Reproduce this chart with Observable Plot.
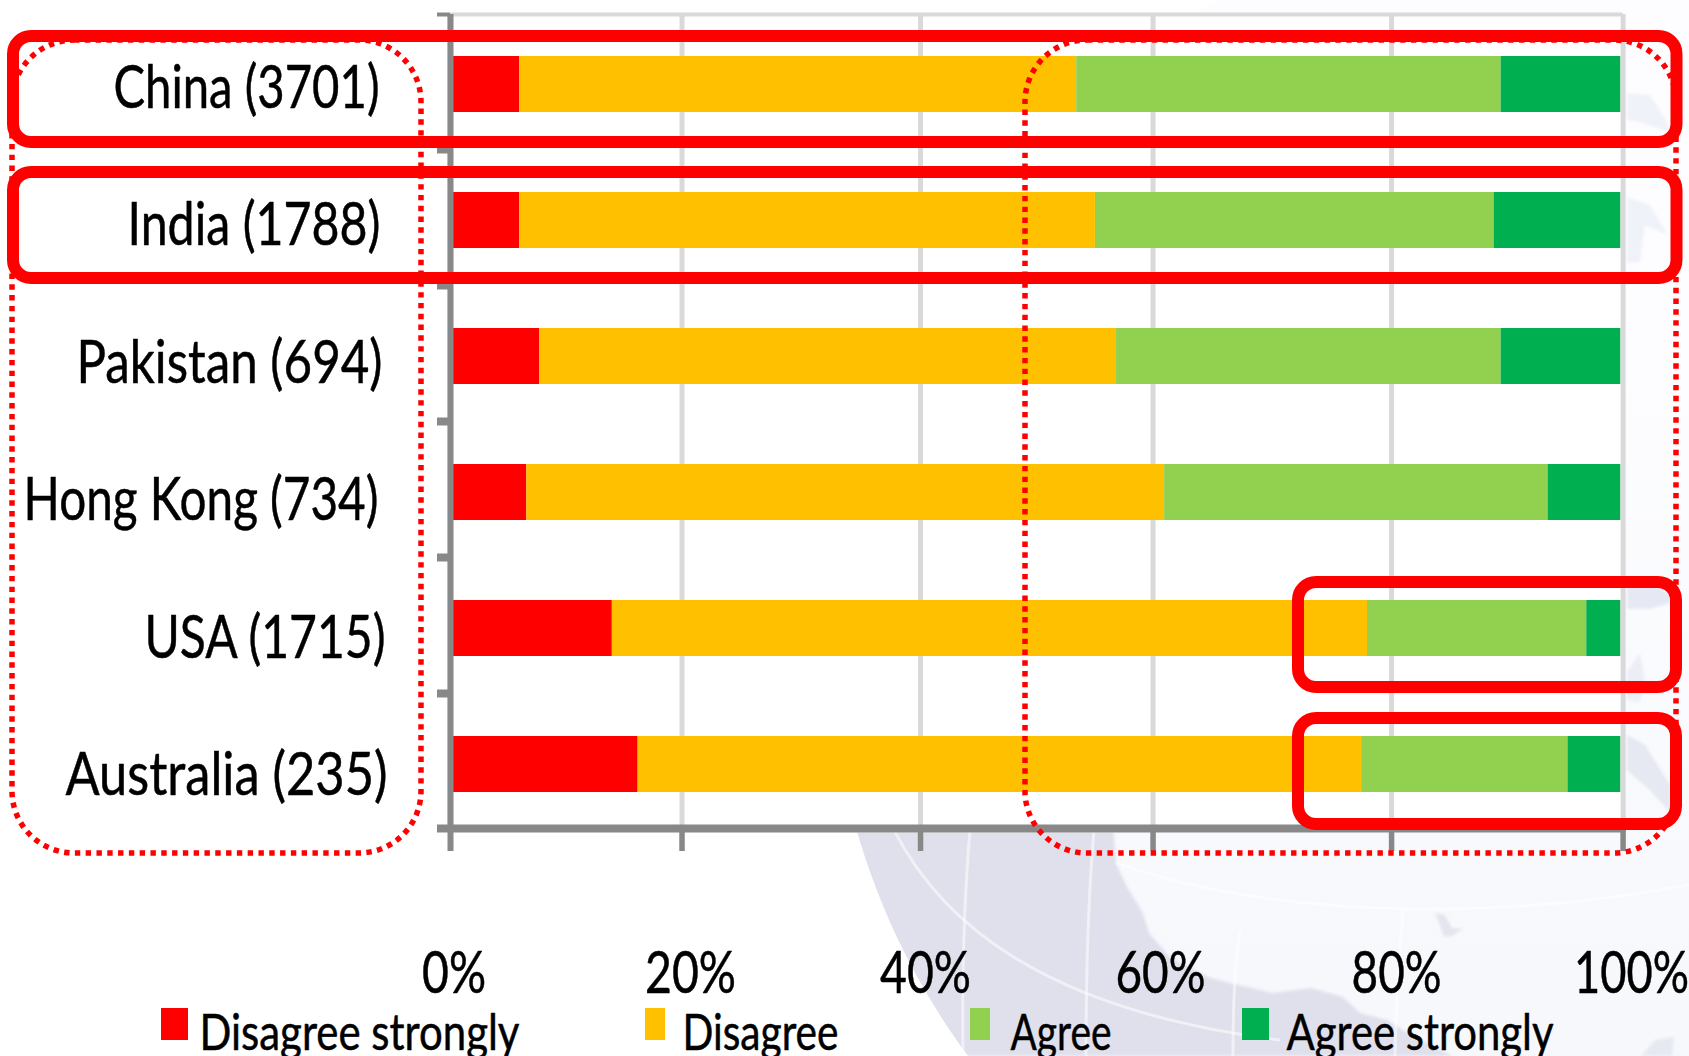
<!DOCTYPE html>
<html>
<head>
<meta charset="utf-8">
<title>Agreement by country</title>
<script src="https://cdn.jsdelivr.net/npm/d3@7"></script>
<script src="https://cdn.jsdelivr.net/npm/@observablehq/plot@0.6"></script>
<style>
  html, body { margin: 0; padding: 0; background: #fff; overflow: hidden; }
  svg { display: block; }
</style>
</head>
<body>
<div id="chart"></div>
<script>
// Survey responses, share of respondents per country (percent)
const categories = ["China (3701)", "India (1788)", "Pakistan (694)", "Hong Kong (734)", "USA (1715)", "Australia (235)"];
const disagreeStrongly = [5.9, 5.9, 7.6, 6.5, 13.8, 16.0];
const disagree = [47.5, 49.1, 49.2, 54.4, 64.4, 61.7];
const agree = [36.2, 34.0, 32.8, 32.7, 18.7, 17.6];
const agreeStrongly = [10.2, 10.8, 10.2, 6.2, 2.9, 4.5];

const levels = ["Disagree strongly", "Disagree", "Agree", "Agree strongly"];
const levelColors = ["#ff0000", "#ffc000", "#92d050", "#00b050"];
const xTicks = [0, 20, 40, 60, 80, 100];

// Layout of the page in pixels
const W = 1689, H = 1056;
const plotLeft = 450, plotRight = 1622.6, plotTop = 16, plotBottom = 832;
const toX = d3.scaleLinear([plotLeft, plotRight], [0, 100]);
const toY = d3.scaleLinear([plotTop, plotBottom], [0, 6]);

// Fine placement and set widths of the labels
const labelDx = [-2, -1, 1, -3, 4, 6];
const labelDy = [23, 24, 26, 27, 29, 30];
const gridDx = [-0.5, -3, 1, -1, 3, 0];
const tickLabelDx = [3.6, 5.5, 6, 6.4, 8, 8.4];
const legendSwatches = [[161, 188], [645, 665], [970, 990], [1242, 1269]];
const legendTextLeft = [199, 682, 1010, 1286];
const textWidths = {
  "China (3701)": 266, "India (1788)": 253, "Pakistan (694)": 306,
  "Hong Kong (734)": 355, "USA (1715)": 241, "Australia (235)": 322,
  "0%": 64, "20%": 91, "40%": 91, "60%": 90, "80%": 90, "100%": 115,
  "Disagree strongly": 320, "Disagree": 156, "Agree": 101, "Agree strongly": 267
};

const series = [disagreeStrongly, disagree, agree, agreeStrongly];
const rows = categories.flatMap((country, row) =>
  levels.map((level, k) => ({country, row, level, value: series[k][row]})));

// Highlight outlines: dotted groups beneath, solid boxes on top
const dottedBoxes = [
  {x1: toX(12), x2: toX(421), y1: toY(40), y2: toY(853)},
  {x1: toX(1025), x2: toX(1676), y1: toY(40), y2: toY(853)}
];
const solidBoxes = [
  {x1: toX(13), x2: toX(1676.5), y1: toY(36), y2: toY(142)},
  {x1: toX(13), x2: toX(1676.5), y1: toY(172), y2: toY(278)},
  {x1: toX(1298), x2: toX(1676), y1: toY(582), y2: toY(687)},
  {x1: toX(1298), x2: toX(1676), y1: toY(718), y2: toY(824)}
];

// Pale globe behind the chart
function globe() {
  const g = d3.create("svg:g");
  const defs = g.append("defs");
  defs.append("clipPath").attr("id", "globe-clip")
    .append("circle").attr("cx", 1539).attr("cy", 634).attr("r", 710);
  const sea = defs.append("linearGradient").attr("id", "sea")
    .attr("x1", 0).attr("x2", 0).attr("y1", 0).attr("y2", 1);
  sea.append("stop").attr("offset", "40%").attr("stop-color", "#fdfdff");
  sea.append("stop").attr("offset", "90%").attr("stop-color", "#f6f8fc");
  defs.append("filter").attr("id", "soft")
    .append("feGaussianBlur").attr("stdDeviation", 1.5);
  const inner = g.append("g").attr("clip-path", "url(#globe-clip)");
  inner.append("rect").attr("x", 800).attr("y", -100).attr("width", 900).attr("height", 1200).attr("fill", "url(#sea)");
  const land = inner.append("g").attr("filter", "url(#soft)");
  const poly = (pts, fill) => land.append("polygon").attr("points", pts).attr("fill", fill);
  poly("1113,825 1116,863 1127,887 1143,913 1149,933 1170,957 1208,977 1230,983 1273,993 1311,988 1343,997 1360,1013 1387,1020 1414,1037 1452,1056 800,1056 800,825", "#e0e0ec");
  poly("1435,913 1445,915 1452,928 1463,929 1452,936 1444,937 1440,925", "#e3e5ef");
  poly("1641,1056 1655,1040 1674,1037 1672,1056", "#e7e9f2");
  poly("1627,93 1650,95 1665,118 1670,132 1640,122 1627,120", "#f0f2f9");
  poly("1627,197 1650,205 1668,235 1645,225 1640,262 1627,263", "#f0f2f9");
  poly("1627,581 1650,583 1680,600 1650,609 1627,609", "#e6e9f3");
  poly("1627,672 1640,653 1645,680 1640,702 1627,700", "#eceef6");
  poly("1627,735 1645,745 1670,785 1670,812 1650,790 1627,770", "#e6e8f2");
  const arc = d => inner.append("path").attr("d", d).attr("fill", "none").attr("stroke", "#fff").attr("stroke-opacity", 0.5).attr("stroke-width", 3);
  arc("M894,830 C940,920 1040,1010 1280,1040");
  arc("M970,830 C964,900 962,980 963,1056");
  arc("M1094,830 C1088,900 1086,980 1086,1056");
  arc("M1116,863 C1280,920 1500,920 1689,885");
  arc("M1240,930 C1235,960 1233,1010 1233,1056");
  arc("M1403,910 C1398,960 1396,1010 1395,1056");
  return g.node();
}

const textBase = {fontFamily: "Lato, Carlito, sans-serif", fill: "#000", stroke: "#000", strokeWidth: 0.5, lineAnchor: "bottom"};

const chart = Plot.plot({
  width: W,
  height: H,
  marginLeft: plotLeft,
  marginRight: W - plotRight,
  marginTop: plotTop,
  marginBottom: H - plotBottom,
  style: {background: "transparent", overflow: "hidden"},
  x: {domain: [0, 100], axis: null},
  y: {domain: [6, 0], axis: null},
  color: {domain: levels, range: levelColors},
  marks: [
    globe,
    Plot.frame({fill: "#fff", stroke: null}),

    // Gridlines, then the stacked bars over them
    ...xTicks.map((t, i) => Plot.ruleX([t], {y1: -0.015, y2: 6, dx: gridDx[i], stroke: "#d9d9d9", strokeWidth: 5})),
    Plot.ruleY([0], {x1: 0, x2: 100, dy: -2, stroke: "#d9d9d9", strokeWidth: 4}),
    Plot.rectX(rows, Plot.stackX({
      x: "value", y1: "row", y2: d => d.row + 1, fill: "level", order: null,
      insetTop: 40, insetBottom: 40
    })),

    // Axis lines and tick marks
    Plot.ruleX([0], {y1: -0.015, y2: 6.14, stroke: "#888", strokeWidth: 6}),
    Plot.ruleY([0], {x1: toX(437), x2: 0, dy: -2, stroke: "#888", strokeWidth: 4}),
    Plot.ruleY([1, 2, 3, 4, 5], {x1: toX(437), x2: 0, dy: -3, stroke: "#888", strokeWidth: 8}),
    Plot.ruleY([6], {x1: toX(437), x2: 100, dy: -4, stroke: "#888", strokeWidth: 8}),
    ...xTicks.slice(1).map(t => Plot.ruleX([t], {
      y1: 5.97, y2: 6.14, dx: gridDx[xTicks.indexOf(t)], stroke: "#888", strokeWidth: 5.5
    })),

    // Country labels
    ...categories.map((c, i) => Plot.text([c], {
      ...textBase, text: d => d, x: toX(381), y: i + 0.5,
      dx: labelDx[i], dy: labelDy[i], textAnchor: "end", fontSize: 60
    })),

    // Percent labels under the axis
    ...xTicks.map((t, i) => Plot.text([t], {
      ...textBase, text: d => `${d}%`, x: d => d, y: toY(992), dx: tickLabelDx[i],
      textAnchor: "middle", fontSize: 58
    })),

    // Legend row
    ...levels.map((level, i) => Plot.rect([level], {
      x1: toX(legendSwatches[i][0]), x2: toX(legendSwatches[i][1]),
      y1: toY(1008), y2: toY(1040), fill: d => d
    })),
    ...levels.map((level, i) => Plot.text([level], {
      ...textBase, text: d => d, x: toX(legendTextLeft[i]), y: toY(1049),
      textAnchor: "start", fontSize: 50
    })),

    // Highlight outlines
    Plot.rect(dottedBoxes, {
      x1: "x1", x2: "x2", y1: "y1", y2: "y2", rx: 62, fill: "none",
      stroke: "#ff0000", strokeWidth: 5.5, strokeDasharray: "5.4,5.4"
    }),
    Plot.rect(solidBoxes, {
      x1: "x1", x2: "x2", y1: "y1", y2: "y2", rx: 18, fill: "none",
      stroke: "#ff0000", strokeWidth: 12
    })
  ]
});

document.getElementById("chart").append(chart);

// Condense each label to its set width
chart.querySelectorAll("text").forEach(t => {
  const w = textWidths[t.textContent];
  if (w) {
    t.setAttribute("textLength", w);
    t.setAttribute("lengthAdjust", "spacingAndGlyphs");
  }
});
</script>
</body>
</html>
